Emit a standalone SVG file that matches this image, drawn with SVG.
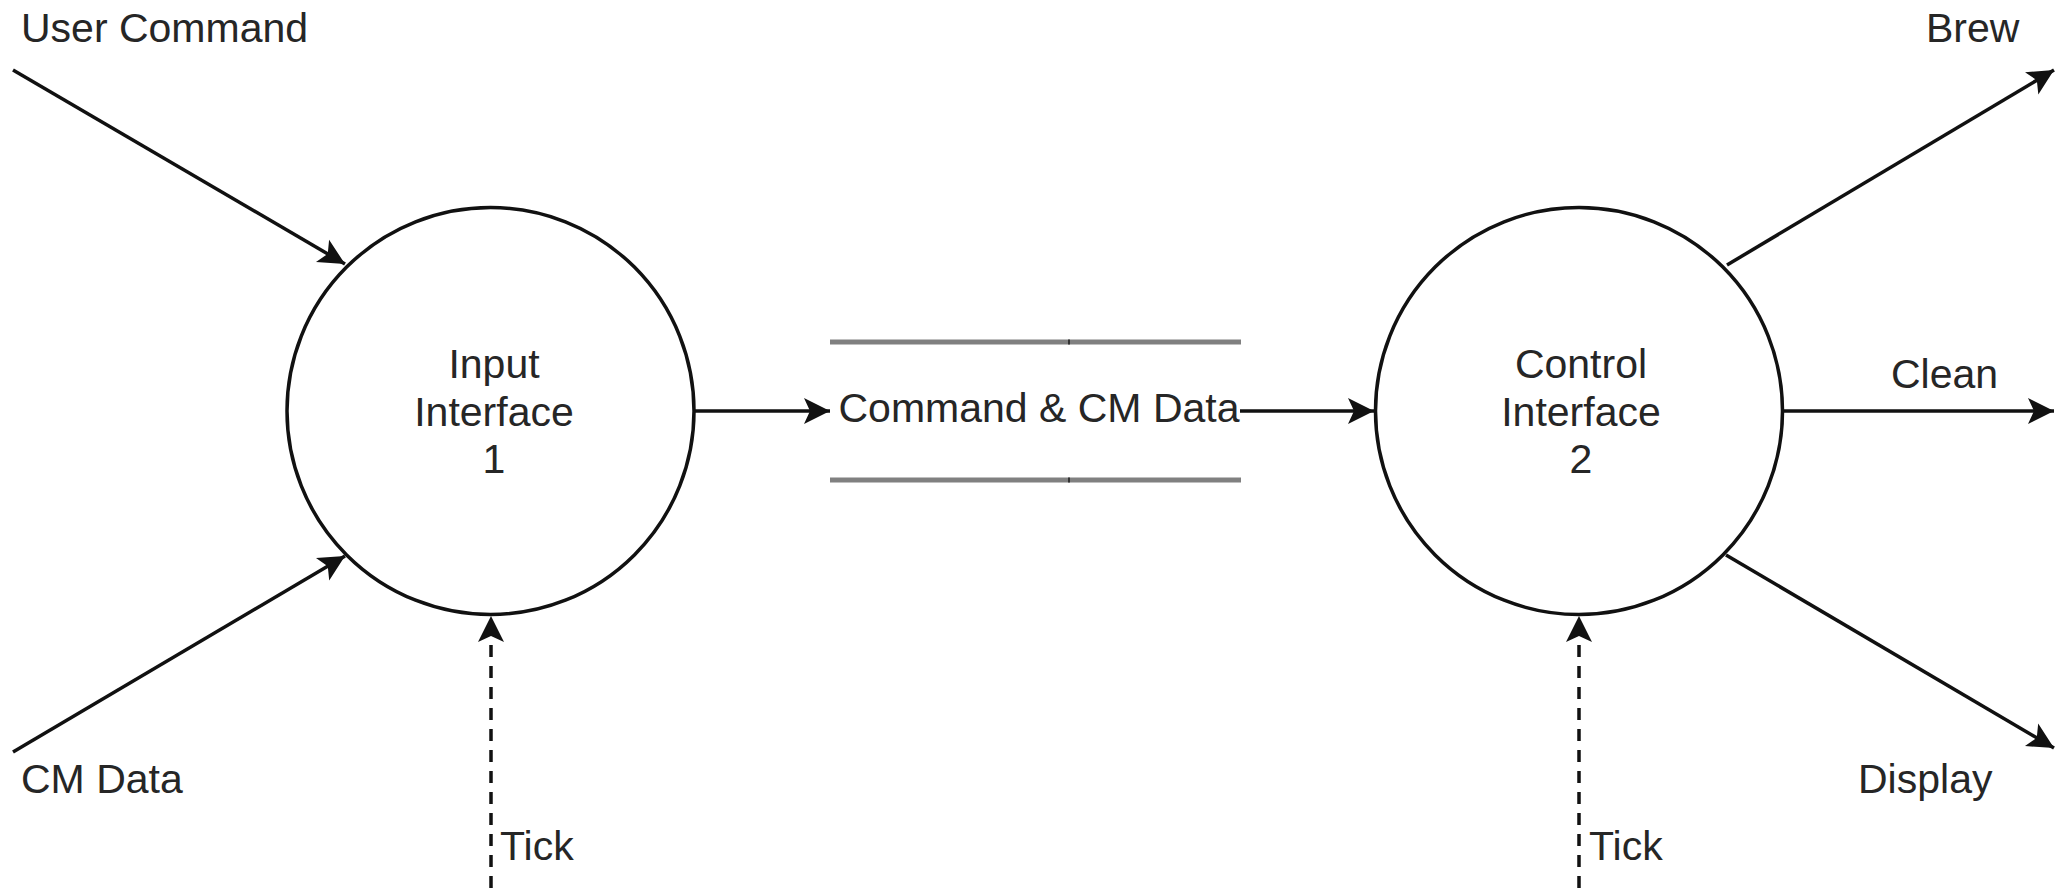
<svg xmlns="http://www.w3.org/2000/svg" width="2061" height="888" viewBox="0 0 2061 888">
<style>
  .lbl { font-family: "Liberation Sans", Arial, sans-serif; font-size: 41px; fill: #262626; }
  .mid { text-anchor: middle; }
  .edge { stroke: #111; stroke-width: 3.5; fill: none; }
  .dash { stroke-dasharray: 12 9; }
  .proc { fill: #fff; stroke: #111; stroke-width: 3.5; }
  .store { stroke: #808080; stroke-width: 5; fill: none; }
</style>
<defs>
  <marker id="arr" markerUnits="userSpaceOnUse" markerWidth="30" markerHeight="30" viewBox="-26 -15 30 30" refX="0" refY="0" orient="auto">
    <path d="M0,0 L-26,-13 L-20,0 L-26,13 Z" fill="#111"/>
  </marker>
</defs>
<rect width="2061" height="888" fill="#fff"/>

<g id="connectors">
  <line class="edge" x1="13" y1="70" x2="345" y2="264" marker-end="url(#arr)"/>
  <line class="edge" x1="13" y1="752" x2="345" y2="556" marker-end="url(#arr)"/>
  <line class="edge" x1="694" y1="411" x2="830" y2="411" marker-end="url(#arr)"/>
  <line class="edge" x1="1240" y1="411" x2="1374" y2="411" marker-end="url(#arr)"/>
  <line class="edge" x1="1727" y1="265" x2="2054" y2="70" marker-end="url(#arr)"/>
  <line class="edge" x1="1783" y1="411" x2="2054" y2="411" marker-end="url(#arr)"/>
  <line class="edge" x1="1726" y1="555" x2="2054" y2="748" marker-end="url(#arr)"/>
  <line class="edge dash" x1="491" y1="888" x2="491" y2="616" marker-end="url(#arr)"/>
  <line class="edge dash" x1="1579" y1="888" x2="1579" y2="616" marker-end="url(#arr)"/>
</g>

<g id="input-interface">
  <circle class="proc" cx="490.5" cy="411" r="203.5"/>
  <text class="lbl mid" x="494" y="378">Input</text>
  <text class="lbl mid" x="494" y="426">Interface</text>
  <text class="lbl mid" x="494" y="473">1</text>
</g>

<g id="control-interface">
  <circle class="proc" cx="1579" cy="411" r="203.5"/>
  <text class="lbl mid" x="1581" y="378">Control</text>
  <text class="lbl mid" x="1581" y="426">Interface</text>
  <text class="lbl mid" x="1581" y="473">2</text>
</g>

<g id="data-store">
  <line class="store" x1="830" y1="342" x2="1241" y2="342"/>
  <line class="store" x1="830" y1="480" x2="1241" y2="480"/>
  <rect x="1068" y="339.5" width="2" height="5" fill="#333"/>
  <rect x="1068" y="477.5" width="2" height="5" fill="#333"/>
  <text class="lbl mid" x="1039" y="422">Command &amp; CM Data</text>
</g>

<g id="labels">
  <text class="lbl" x="21" y="42">User Command</text>
  <text class="lbl" x="21" y="793">CM Data</text>
  <text class="lbl" x="1926" y="42">Brew</text>
  <text class="lbl" x="1891" y="388">Clean</text>
  <text class="lbl" x="1858" y="793">Display</text>
  <text class="lbl" x="500" y="860">Tick</text>
  <text class="lbl" x="1589" y="860">Tick</text>
</g>
</svg>
